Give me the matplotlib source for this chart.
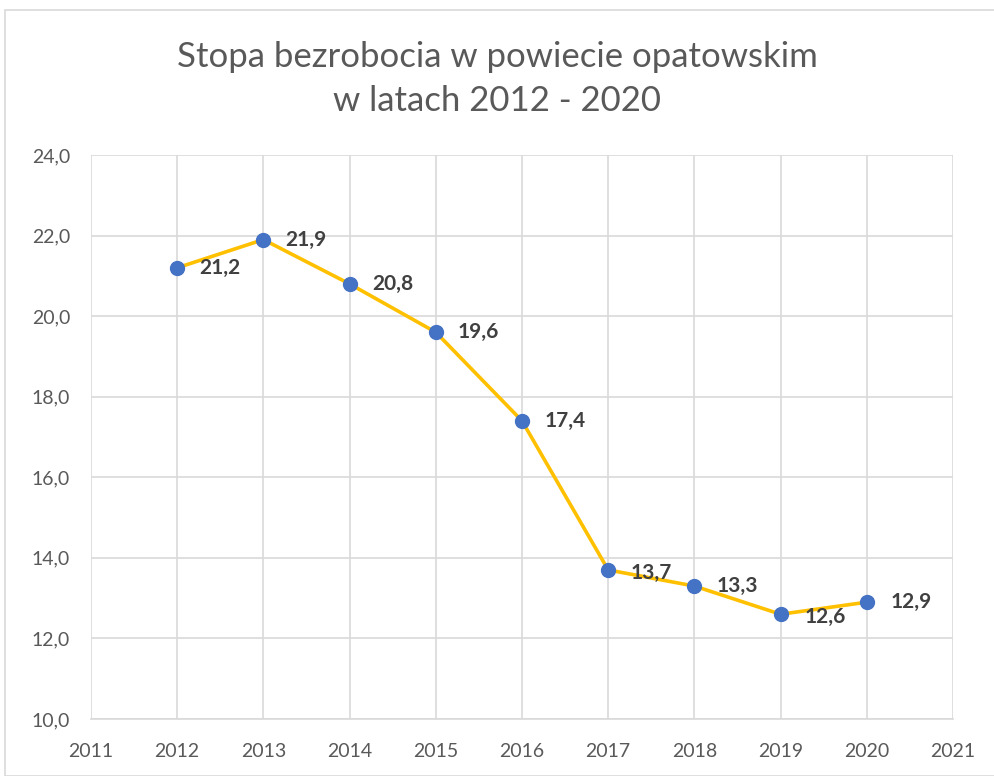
import matplotlib
matplotlib.use("Agg")
import matplotlib.pyplot as plt
from matplotlib.patches import Rectangle

years = [2012, 2013, 2014, 2015, 2016, 2017, 2018, 2019, 2020]
rates = [21.2, 21.9, 20.8, 19.6, 17.4, 13.7, 13.3, 12.6, 12.9]
labels = ["21,2", "21,9", "20,8", "19,6", "17,4", "13,7", "13,3", "12,6", "12,9"]
x_ticks = list(range(2011, 2022))
y_ticks = [10, 12, 14, 16, 18, 20, 22, 24]
y_tick_labels = ["10,0", "12,0", "14,0", "16,0", "18,0", "20,0", "22,0", "24,0"]
title_lines = ["Stopa bezrobocia w powiecie opatowskim", "w latach 2012 - 2020"]

plt.rcParams['font.family'] = ['Lato', 'DejaVu Sans']

fig = plt.figure(figsize=(9.94, 7.76), dpi=100)
fig.patches.append(Rectangle((5/994, 0), 1.2, (776-10)/776, transform=fig.transFigure,
                             fill=False, edgecolor="#d9d9d9", linewidth=1.2))
ax = fig.add_axes([91/994, 1-719/776, (953-91)/994, (719-155)/776])

ax.plot(years, rates, color="#FFC000", linewidth=2.6, zorder=3,
        marker="o", markersize=10, markerfacecolor="#4472C4", markeredgecolor="#4472C4")

offsets = [(16, 0), (16, 0), (16, 0), (16, 0), (16, 0), (16, -2), (16, 0), (17, -2), (17, 0)]
for x, y, t, off in zip(years, rates, labels, offsets):
    ax.annotate(t, (x, y), xytext=off, textcoords="offset points", ha="left", va="center",
                fontsize=15, fontweight="bold", color="#404040", zorder=4)

ax.set_xlim(2011, 2021)
ax.set_ylim(10, 24)
ax.set_xticks(x_ticks)
ax.set_xticklabels([str(v) for v in x_ticks])
ax.set_yticks(y_ticks)
ax.set_yticklabels(y_tick_labels)
ax.grid(True, color="#d9d9d9", linewidth=1.2)
ax.set_axisbelow(True)
for s in ["top", "right", "left"]:
    ax.spines[s].set_visible(False)
ax.spines["bottom"].set_color("#d9d9d9")
ax.spines["bottom"].set_linewidth(1.2)
ax.tick_params(axis="both", length=0, labelsize=14, labelcolor="#595959")
ax.tick_params(axis="x", pad=17)
ax.tick_params(axis="y", pad=15)

for line, ypx in zip(title_lines, [57, 101]):
    fig.text(0.5, 1-ypx/776, line, ha="center", va="center", fontsize=25, color="#595959")

fig.savefig("out.png", dpi=100, facecolor="white")
